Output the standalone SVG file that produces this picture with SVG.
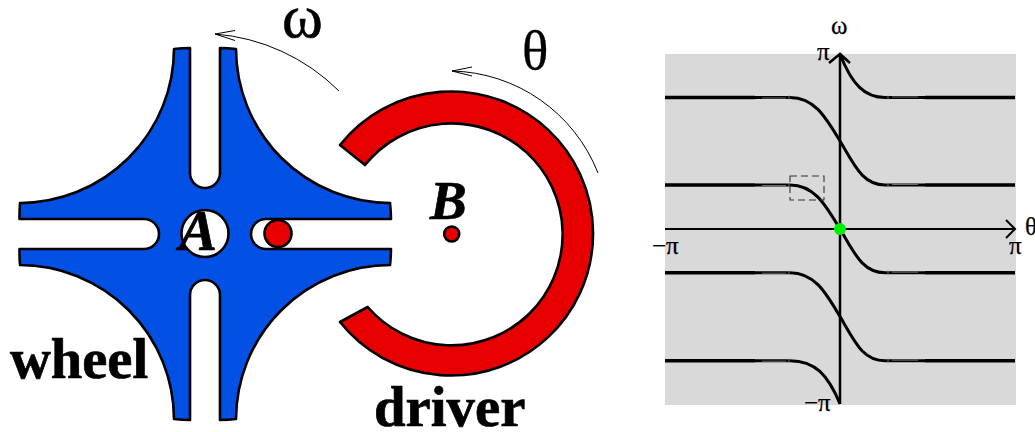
<svg xmlns="http://www.w3.org/2000/svg" width="1035" height="432" viewBox="0 0 1035 432">
<style>
.s{font-family:"Liberation Serif","Times New Roman",serif;fill:#000}
.b{font-weight:bold;stroke:#000;stroke-width:.7}
.i{font-style:italic}
.o{stroke:#000;stroke-width:2.6;stroke-linejoin:round}
.thin{fill:none;stroke:#000;stroke-width:1}
.c{fill:none;stroke:#000;stroke-width:3}
.f{fill:none;stroke:#000;stroke-width:3.6}
.g{fill:none;stroke:#999;stroke-width:.7}
.ax{fill:none;stroke:#000;stroke-width:2}
.l{font-size:25px;stroke:#000;stroke-width:.25}
</style>
<defs>
<g id="flatL"><path class="f" d="M665,0H755"/><path class="g" d="M762,.5H786M789,-2.500V2.500"/></g>
<g id="flatR"><path class="f" d="M925,0H1015"/><path class="g" d="M892,-.5H918M888,-2.500V2.500"/></g>
</defs>
<rect width="1035" height="432" fill="#fff"/>
<g id="wheel">
<path class="o" fill="#0350e5" fill-rule="evenodd" d="M190,48V173A15,15 0 0 0 220,173V48A186,186 0 0 1 236,49A154.500,154.500 0 0 0 390,203A186,186 0 0 1 391,219H266A15,15 0 0 0 266,249H391A186,186 0 0 1 390,265A154.500,154.500 0 0 0 236,419A186,186 0 0 1 220,420V295A15,15 0 0 0 190,295V420A186,186 0 0 1 174,419A154.500,154.500 0 0 0 20,265A186,186 0 0 1 19.500,249H144A15,15 0 0 0 144,219H19.500A186,186 0 0 1 20,203A154.500,154.500 0 0 0 174,49A186,186 0 0 1 190,48ZM228.500,233.500A23.500,23.500 0 1 0 181.500,233.500A23.500,23.500 0 1 0 228.500,233.500Z"/>
<circle class="o" cx="278" cy="233.500" r="13.500" fill="#e60000"/>
<text class="s b i" x="179" y="250" font-size="57">A</text>
<text class="s b" x="10" y="378" font-size="56.500">wheel</text>
</g>
<g id="driver">
<path class="o" fill="#e60000" d="M340,145A142,142 0 1 1 340,322L367.700,307A111,111 0 1 0 365,165Z"/>
<circle class="o" cx="451.700" cy="234" r="7.500" fill="#e60000"/>
<text class="s b i" x="430" y="219" font-size="55">B</text>
<text class="s b" x="374" y="426" font-size="56.800">driver</text>
</g>
<g id="connectors">
<path class="thin" d="M339,91A198,198 0 0 0 215,34M235,30.500L215,34L235,40.500"/>
<path class="thin" d="M598,173A161,161 0 0 0 452,71M472,67L452,71L472,76"/>
</g>
<text class="s" x="282" y="37" font-size="62" stroke="#000" stroke-width=".6">ω</text>
<text class="s" x="522" y="69" font-size="55" stroke="#000" stroke-width=".3">θ</text>
<g id="chart">
<rect x="665" y="54" width="351" height="351" fill="#d9d9d9"/>
<g id="curves">
<path class="c" d="M840,54C852,85 865,97.500 885,97.500H925"/>
<path class="c" d="M755,97.500H790C815,97.500 826,118 840,141C854,164 862,185 885,185H925"/>
<path class="c" d="M755,185H790C815,185 826,206 840,229C854,252 862,272.700 885,272.700H925"/>
<path class="c" d="M755,272.700H790C815,272.700 826,293 840,316.500C854,340 862,360.700 885,360.700H925"/>
<path class="c" d="M755,360.700H790C815,360.700 828,375 840,404"/>
<use href="#flatL" y="97.500"/><use href="#flatL" y="185"/><use href="#flatL" y="272.700"/><use href="#flatL" y="360.700"/>
<use href="#flatR" y="97.500"/><use href="#flatR" y="185"/><use href="#flatR" y="272.700"/><use href="#flatR" y="360.700"/>
</g>
<g id="axes">
<path class="ax" d="M665,229H1015M1006,220L1015,229L1006,238"/>
<path class="ax" style="stroke-width:2.500" d="M840,404V55M829,63L840,54L850,63"/>
</g>
<rect x="790" y="176" width="34" height="24" fill="none" stroke="#333" stroke-width="1.100" stroke-dasharray="7 4"/>
<circle cx="840" cy="229" r="6" fill="#00ee00"/>
<g class="s l">
<text x="831" y="34">ω</text>
<text x="817" y="60">π</text>
<text x="652" y="254">−π</text>
<text x="1009" y="254">π</text>
<text x="1025" y="235">θ</text>
<text x="804" y="411">−π</text>
</g>
</g>
</svg>
